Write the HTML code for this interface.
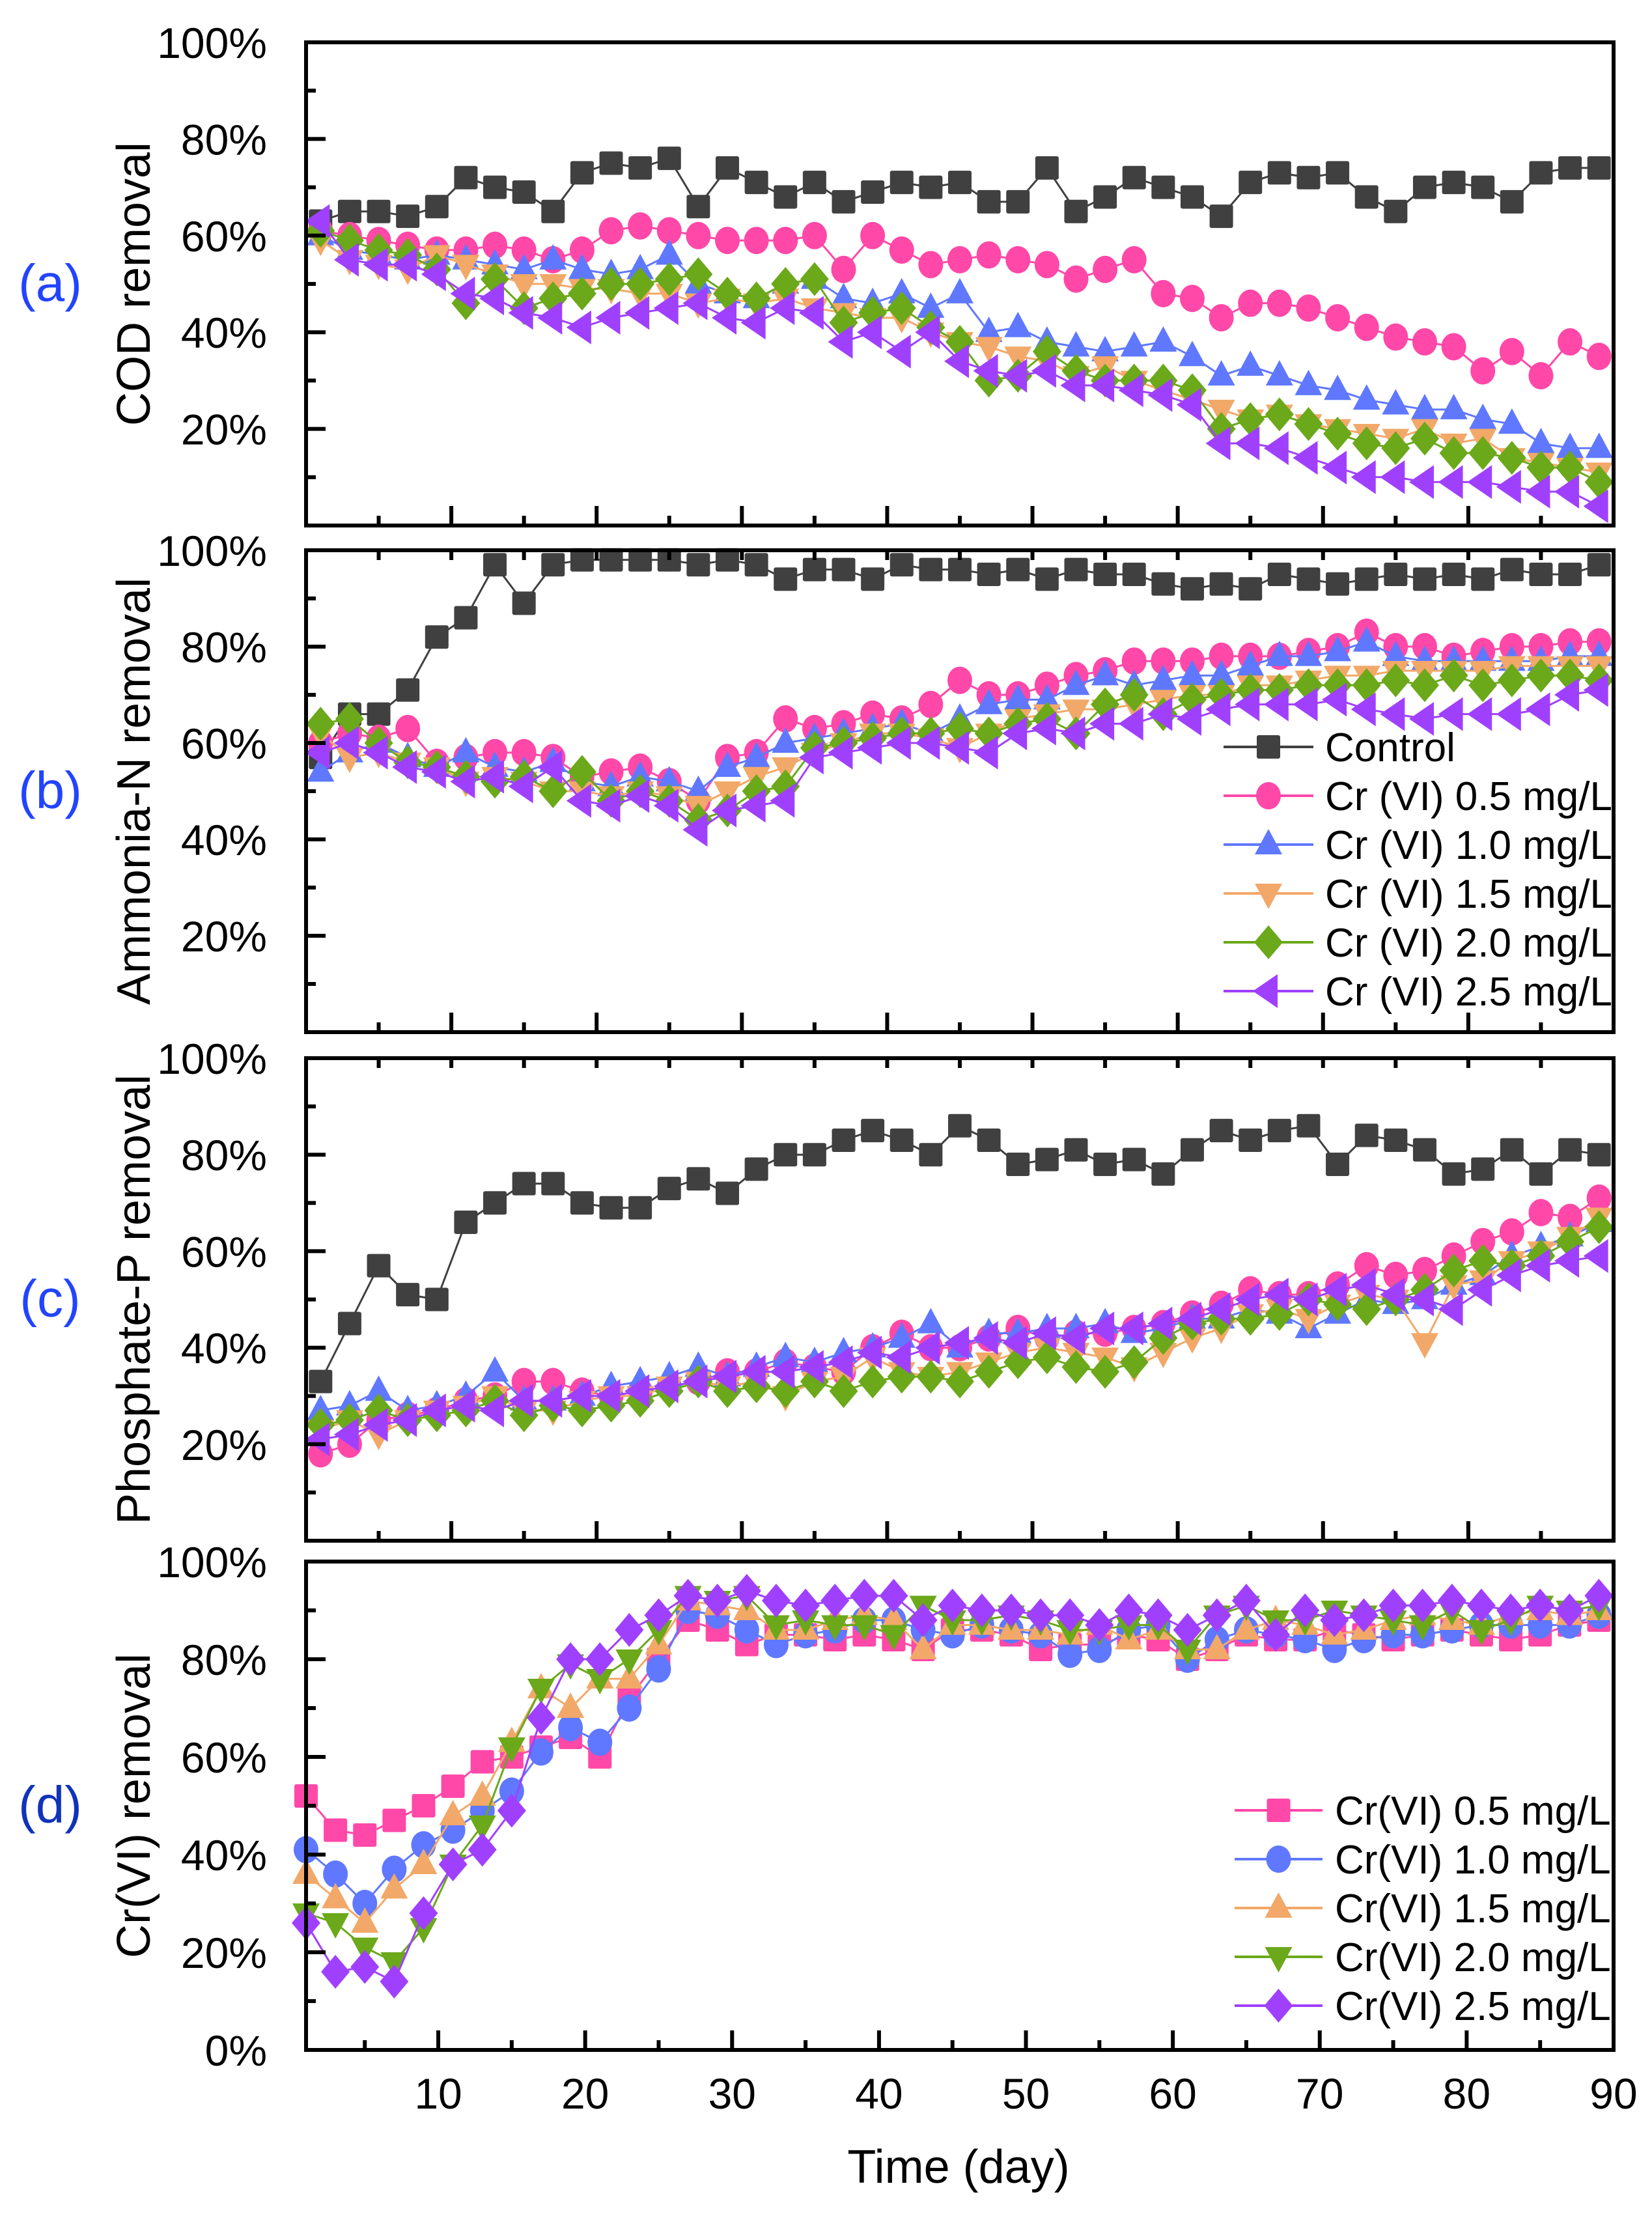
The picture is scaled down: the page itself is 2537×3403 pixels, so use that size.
<!DOCTYPE html>
<html><head><meta charset="utf-8"><style>
html,body{margin:0;padding:0;background:#fff;}
svg{display:block;font-family:"Liberation Sans",Arial,sans-serif;}
</style></head><body>
<svg id="chart" width="2537" height="3403" viewBox="0 0 2537 3403" xmlns="http://www.w3.org/2000/svg"></svg>
<script>
const days = [1,3,5,7,9,11,13,15,17,19,21,23,25,27,29,31,33,35,37,39,41,43,45,47,49,51,53,55,57,59,61,63,65,67,69,71,73,75,77,79,81,83,85,87,89];
const yTicks = [0,20,40,60,80,100];
const xTickLabels = [10,20,30,40,50,60,70,80,90];

const codControl = [63,65,65,64,66,72,70,69,65,73,75,74,76,66,74,71,68,71,67,69,71,70,71,67,67,74,65,68,72,70,68,64,71,73,72,73,68,65,70,71,70,67,73,74,74];
const cod05 = [61,60,59,58,57,57,58,57,55,57,61,62,61,60,59,59,59,60,53,60,57,54,55,56,55,54,51,53,55,48,47,43,46,46,45,43,41,39,38,37,32,36,31,38,35];
const cod10 = [60,57,56,55,56,55,54,53,55,53,52,53,56,50,48,47,50,51,47,46,48,45,48,40,41,38,37,36,37,38,35,31,33,31,29,28,26,25,24,24,22,21,17,16,16];
const cod15 = [59,55,54,53,56,54,52,50,50,49,49,48,48,46,47,46,47,45,44,43,43,40,38,37,35,34,31,33,30,28,26,24,22,23,21,20,19,18,20,17,18,14,13,12,11];
const cod20 = [61,59,57,56,53,46,51,45,47,48,50,50,51,52,48,47,50,51,42,44,45,41,38,30,31,36,32,30,30,30,28,20,22,23,21,19,17,16,18,15,15,14,12,12,9];
const cod25 = [63,55,54,54,52,48,47,44,43,41,43,44,45,46,43,42,45,44,38,40,36,40,34,32,31,32,29,29,28,27,25,17,17,16,14,12,10,10,9,9,9,8,7,7,4];

const nhControl = [57,66,66,71,82,86,97,89,97,98,98,98,98,97,98,97,94,96,96,94,97,96,96,95,96,94,96,95,95,93,92,93,92,95,94,93,94,95,94,95,94,96,95,95,97];
const nh05 = [60,62,61,63,56,57,58,58,57,53,54,55,52,48,57,58,65,63,64,66,65,68,73,70,70,72,74,75,77,77,77,78,78,78,79,80,83,80,80,78,79,80,80,81,81];
const nh10 = [54,58,60,57,55,58,55,54,56,52,51,53,52,50,55,57,60,61,62,63,64,62,65,68,69,69,72,74,72,73,74,74,76,78,78,79,81,78,77,77,77,77,77,78,78];
const nh15 = [62,57,58,56,55,52,53,52,50,50,49,50,49,47,50,53,55,58,60,62,62,61,59,62,65,66,67,67,68,69,70,70,72,72,73,74,74,75,75,75,75,76,76,76,76];
const nh20 = [64,65,60,56,55,53,52,53,50,54,48,50,48,44,46,50,51,59,60,61,62,62,63,62,64,65,62,68,70,66,69,70,71,71,72,72,72,73,72,74,72,73,74,74,73];
const nh25 = [58,60,58,55,54,52,53,51,55,48,47,49,47,42,46,47,48,57,58,59,60,60,59,58,62,63,62,64,64,66,65,67,68,68,68,69,67,66,65,66,66,66,67,70,71];

const pControl = [33,45,57,51,50,66,70,74,74,70,69,69,73,75,72,77,80,80,83,85,83,80,86,83,78,79,81,78,79,76,81,85,83,85,86,78,84,83,81,76,77,81,76,81,80];
const p05 = [18,20,25,26,27,29,30,33,33,31,30,31,32,33,35,35,37,36,35,40,43,40,40,42,44,42,43,43,44,45,47,49,52,51,51,53,57,55,56,59,62,64,68,67,71];
const p10 = [27,28,31,27,28,30,35,29,29,30,32,33,34,36,34,36,38,37,39,40,42,45,40,43,43,44,44,45,43,44,46,46,48,47,44,47,50,49,50,53,55,59,61,63,66];
const p15 = [23,25,22,25,27,28,30,27,27,29,30,30,32,33,32,33,30,33,34,38,35,34,35,37,39,40,39,38,36,39,42,44,47,48,46,49,51,50,41,53,54,58,60,63,67];
const p20 = [24,25,27,25,26,27,29,26,28,27,28,29,31,33,31,32,31,33,31,33,34,34,33,35,37,38,36,35,37,42,45,46,46,47,50,49,48,50,52,56,58,57,59,62,65];
const p25 = [21,22,24,25,27,28,27,29,29,30,30,31,32,33,34,35,35,36,37,39,38,40,41,42,41,43,42,44,44,45,46,48,50,51,50,52,53,51,50,48,52,55,57,58,59];

const cr05 = [52,45,44,47,50,54,59,60,62,64,60,72,80,88,86,83,85,85,84,85,84,82,86,86,85,82,83,83,85,84,80,82,85,84,84,86,85,84,85,86,85,84,85,87,88];
const cr10 = [41,36,30,37,42,45,49,53,61,66,63,70,78,90,89,86,83,85,86,88,88,86,85,87,86,85,81,82,86,87,80,84,86,85,84,82,84,85,85,86,87,87,87,87,89];
const cr15 = [36,31,26,33,38,48,52,63,74,70,76,76,83,92,91,90,86,86,88,89,88,82,87,87,86,86,85,87,84,86,82,82,86,88,87,85,86,88,89,88,87,89,90,89,90];
const cr20 = [28,26,21,18,25,38,46,62,74,79,76,80,86,93,92,93,87,88,87,87,85,91,88,88,89,88,86,86,87,87,82,89,91,88,88,90,89,88,87,90,86,88,91,90,91];
const cr25 = [26,16,17,14,28,38,41,49,68,80,80,86,89,93,92,94,92,91,92,93,93,88,91,90,90,89,89,87,90,89,86,89,92,85,90,88,89,91,91,92,91,90,91,90,93];

const C = {ctrl:'#404040',pink:'#ff48a8',blue:'#5f78ff',orange:'#f2a868',green:'#6ba81a',purple:'#a040ff'};
const NS='http://www.w3.org/2000/svg';
const svg=document.getElementById('chart');
function mk(tag,attrs,parent){const e=document.createElementNS(NS,tag);for(const k in attrs)e.setAttribute(k,attrs[k]);(parent||svg).appendChild(e);return e;}
const L=470,R=2478;

function marker(g,shape,x,y,col){
  const s=18;let el;
  if(shape==='square') el=mk('rect',{x:x-s,y:y-s,width:2*s,height:2*s,rx:3,fill:col},g);
  else if(shape==='circle') el=mk('ellipse',{cx:x,cy:y,rx:19,ry:21,fill:col},g);
  else if(shape==='up') el=mk('polygon',{points:`${x},${y-24} ${x+21},${y+15} ${x-21},${y+15}`,fill:col},g);
  else if(shape==='down') el=mk('polygon',{points:`${x},${y+24} ${x+21},${y-15} ${x-21},${y-15}`,fill:col},g);
  else if(shape==='diamond') el=mk('polygon',{points:`${x},${y-26} ${x+22},${y} ${x},${y+26} ${x-22},${y}`,fill:col},g);
  else el=mk('polygon',{points:`${x-24},${y} ${x+14},${y-26} ${x+14},${y+26}`,fill:col},g);
  return el;
}

function panel(cfg){
  const {top,bot,x0,x1,series,title,letter,letterColor,name}=cfg;
  const g=mk('g',{});
  
  
  const xs=d=>L+(d-x0)/(x1-x0)*(R-L);
  const ys=v=>bot-v/100*(bot-top);
  // series
  series.forEach(s=>{
    const sg=mk('g',{},g);
    
    
    const pts=days.map((d,i)=>xs(d)+','+ys(s.values[i])).join(' ');
    const pl=mk('polyline',{points:pts,fill:'none',stroke:s.color,'stroke-width':3},sg);
    
    
    days.forEach((d,i)=>{
      const m=marker(sg,s.shape,xs(d),ys(s.values[i]),s.color);
      
      
    });
  });
  // frame
  const fr=mk('rect',{x:L,y:top,width:R-L,height:bot-top,fill:'none',stroke:'#000','stroke-width':6},g);
  
  
  // y ticks
  for(let v=0;v<=100;v+=10){
    const len=(v%20===0)?30:15;
    const t=mk('line',{x1:L,x2:L+len,y1:ys(v),y2:ys(v),stroke:'#000','stroke-width':6},g);
    
    
  }
  yTicks.forEach(v=>{
    if(v===0 && !cfg.zero) return;
    const t=mk('text',{x:410,y:ys(v)+24,'text-anchor':'end','font-size':66},g);
    t.textContent=v+'%';
    
    
  });
  // x ticks
  for(let d=5;d<90;d+=5){
    const len=(d%10===0)?30:15;
    const t=mk('line',{x1:xs(d),x2:xs(d),y1:bot,y2:bot-len,stroke:'#000','stroke-width':6},g);
    
    
    if(cfg.topTicks){
      const t2=mk('line',{x1:xs(d),x2:xs(d),y1:top,y2:top+15,stroke:'#000','stroke-width':6},g);
      
      
    }
  }
  if(cfg.xLabels){
    xTickLabels.forEach(d=>{
      const t=mk('text',{x:xs(d),y:bot+90,'text-anchor':'middle','font-size':66},g);
      t.textContent=d;
      
      
    });
  }
  const cy=(top+bot)/2;
  const yt=mk('text',{x:0,y:0,'text-anchor':'middle','font-size':72,transform:`translate(230,${cy}) rotate(-90)`},g);
  yt.textContent=title;
  
  
  const lt=mk('text',{x:77,y:cy+26,'text-anchor':'middle','font-size':80,fill:letterColor},g);
  lt.textContent=letter;
  
  
  // legend
  if(cfg.legend){
    const lg=mk('g',{},g);
    
    
    series.forEach((s,i)=>{
      const y=cfg.legend.y0+i*cfg.legend.dy;
      const eg=mk('g',{},lg);
      
      
      mk('line',{x1:cfg.legend.lx0,x2:cfg.legend.lx1,y1:y,y2:y,stroke:s.color,'stroke-width':4},eg);
      marker(eg,s.shape,(cfg.legend.lx0+cfg.legend.lx1)/2,y,s.color);
      const t=mk('text',{x:cfg.legend.tx,y:y+22,'font-size':62},eg);
      t.textContent=s.label;
    });
  }
}

const lab=['Control','Cr (VI) 0.5 mg/L','Cr (VI) 1.0 mg/L','Cr (VI) 1.5 mg/L','Cr (VI) 2.0 mg/L','Cr (VI) 2.5 mg/L'];
function six(v){return [
 {name:'control',label:lab[0],color:C.ctrl,shape:'square',values:v[0]},
 {name:'cr-0.5',label:lab[1],color:C.pink,shape:'circle',values:v[1]},
 {name:'cr-1.0',label:lab[2],color:C.blue,shape:'up',values:v[2]},
 {name:'cr-1.5',label:lab[3],color:C.orange,shape:'down',values:v[3]},
 {name:'cr-2.0',label:lab[4],color:C.green,shape:'diamond',values:v[4]},
 {name:'cr-2.5',label:lab[5],color:C.purple,shape:'left',values:v[5]}];}

panel({name:'panel-a-cod',top:65,bot:807,x0:0,x1:90,title:'COD removal',letter:'(a)',letterColor:'#2244ff',
  series:six([codControl,cod05,cod10,cod15,cod20,cod25])});
panel({name:'panel-b-ammonia',top:845,bot:1585,x0:0,x1:90,title:'Ammonia-N removal',letter:'(b)',letterColor:'#2244ff',topTicks:true,
  series:six([nhControl,nh05,nh10,nh15,nh20,nh25]),legend:{y0:1147,dy:75,lx0:1879,lx1:2017,tx:2035}});
panel({name:'panel-c-phosphate',top:1625,bot:2366,x0:0,x1:90,title:'Phosphate-P removal',letter:'(c)',letterColor:'#2244ff',topTicks:true,
  series:six([pControl,p05,p10,p15,p20,p25])});
panel({name:'panel-d-crvi',top:2398,bot:3148,x0:1,x1:90,title:'Cr(VI) removal',letter:'(d)',letterColor:'#1133bb',zero:true,xLabels:true,
  series:[
   {name:'crvi-0.5',label:'Cr(VI) 0.5 mg/L',color:C.pink,shape:'square',values:cr05},
   {name:'crvi-1.0',label:'Cr(VI) 1.0 mg/L',color:C.blue,shape:'circle',values:cr10},
   {name:'crvi-1.5',label:'Cr(VI) 1.5 mg/L',color:C.orange,shape:'up',values:cr15},
   {name:'crvi-2.0',label:'Cr(VI) 2.0 mg/L',color:C.green,shape:'down',values:cr20},
   {name:'crvi-2.5',label:'Cr(VI) 2.5 mg/L',color:C.purple,shape:'diamond',values:cr25}],
  legend:{y0:2780,dy:75,lx0:1896,lx1:2031,tx:2050}});
const xt=mk('text',{x:1472,y:3352,'text-anchor':'middle','font-size':72});
xt.textContent='Time (day)';


</script>
</body></html>
